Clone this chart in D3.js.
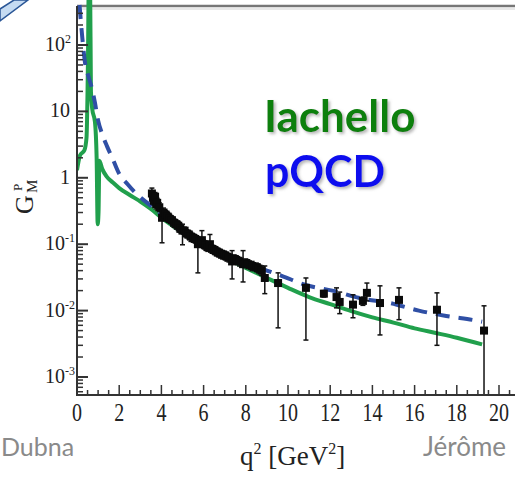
<!DOCTYPE html>
<html><head><meta charset="utf-8">
<script src="https://cdnjs.cloudflare.com/ajax/libs/d3/7.8.5/d3.min.js"></script>
<style>html,body{margin:0;padding:0;background:#fff;}svg{display:block;}</style>
</head><body>
<div id="chart"></div>
<script>
// ---- data ----
const xTickValues = [0, 2, 4, 6, 8, 10, 12, 14, 16, 18, 20];
const yTickLabels = [["10", "2"], ["10", ""], ["1", ""], ["10", "-1"], ["10", "-2"], ["10", "-3"]];
const yTickValues = [100, 10, 1, 0.1, 0.01, 0.001];

const pqcdX = [0.12, 0.25, 0.38, 0.55, 0.71, 0.85, 0.99, 1.2, 1.42, 1.71, 2.0, 2.4, 2.8, 3.2, 3.6, 4, 5, 6, 7, 8, 9, 9.7, 10.8, 12.1, 13.5, 14.8, 16.2, 17.5, 18.9, 19.2];
const pqcdY = [400, 130, 54, 33, 22, 13.5, 7.5, 4.5, 3.0, 1.87, 1.15, 0.8, 0.58, 0.45, 0.36, 0.28, 0.15, 0.098, 0.072, 0.053, 0.040, 0.0334, 0.0245, 0.020, 0.0152, 0.0131, 0.0100, 0.0083, 0.0071, 0.0068];

const iachX = [0.0, 0.15, 0.35, 0.45, 0.52, 0.56, 0.62, 0.66, 0.72, 0.85, 0.93, 0.98, 1.02, 1.06, 1.2, 1.4, 1.7, 2.0, 2.5, 3.0, 3.5, 4, 5, 6, 7, 8, 9, 10, 11, 12, 13, 14, 15, 16, 17, 18, 19.2];
const iachY = [1.3, 2.2, 2.6, 4, 60, 900, 900, 20, 11, 7, 2, 0.2, 0.3, 1.8, 1.35, 1.05, 0.85, 0.7, 0.55, 0.44, 0.34, 0.25, 0.15, 0.095, 0.063, 0.044, 0.031, 0.022, 0.016, 0.0125, 0.0098, 0.0079, 0.0066, 0.0054, 0.0046, 0.0039, 0.0031];

const dataX  = [3.55, 3.6, 3.65, 3.7, 3.75, 3.8, 3.9, 4.03, 4.1, 4.2, 4.3, 4.4, 4.5, 4.6, 4.7, 4.8, 4.9, 5.0, 5.1, 5.2, 5.3, 5.4, 5.5, 5.6, 5.73, 5.8, 5.92, 6.0, 6.1, 6.2, 6.3, 6.4, 6.5, 6.6, 6.7, 6.8, 6.9, 7.0, 7.1, 7.2, 7.35, 7.45, 7.55, 7.7, 7.87, 8.0, 8.1, 8.3, 8.5, 8.6, 8.75, 8.9, 9.53, 10.85, 11.7, 12.3, 12.45, 13.08, 13.55, 13.74, 14.36, 15.26, 17.06, 19.29];
const dataY  = [0.58, 0.50, 0.45, 0.52, 0.40, 0.42, 0.36, 0.25, 0.30, 0.28, 0.26, 0.24, 0.23, 0.21, 0.20, 0.19, 0.17, 0.16, 0.16, 0.145, 0.14, 0.13, 0.125, 0.12, 0.10, 0.11, 0.115, 0.10, 0.095, 0.09, 0.10, 0.085, 0.082, 0.078, 0.075, 0.072, 0.07, 0.068, 0.065, 0.063, 0.055, 0.06, 0.058, 0.055, 0.050, 0.052, 0.05, 0.047, 0.045, 0.043, 0.040, 0.031, 0.026, 0.022, 0.018, 0.016, 0.0135, 0.0123, 0.014, 0.0185, 0.013, 0.0145, 0.0103, 0.0050];
const dataLo = [0.50, 0.42, 0.39, 0.45, 0.34, 0.36, 0.31, 0.105, 0.26, 0.24, 0.22, 0.21, 0.20, 0.18, 0.17, 0.16, 0.15, 0.098, 0.14, 0.125, 0.12, 0.11, 0.108, 0.104, 0.037, 0.095, 0.10, 0.087, 0.082, 0.078, 0.086, 0.073, 0.071, 0.067, 0.065, 0.062, 0.06, 0.059, 0.056, 0.054, 0.030, 0.052, 0.05, 0.047, 0.027, 0.045, 0.043, 0.040, 0.039, 0.037, 0.034, 0.018, 0.0055, 0.0036, 0.016, 0.011, 0.009, 0.0078, 0.012, 0.014, 0.0043, 0.0073, 0.0030, 0.0001];
const dataHi = [0.70, 0.60, 0.52, 0.60, 0.47, 0.49, 0.42, 0.32, 0.35, 0.32, 0.30, 0.28, 0.26, 0.24, 0.23, 0.22, 0.20, 0.20, 0.18, 0.165, 0.16, 0.15, 0.143, 0.137, 0.13, 0.125, 0.16, 0.115, 0.108, 0.103, 0.14, 0.097, 0.094, 0.09, 0.086, 0.083, 0.08, 0.078, 0.075, 0.072, 0.080, 0.069, 0.067, 0.063, 0.080, 0.06, 0.058, 0.055, 0.052, 0.05, 0.047, 0.047, 0.037, 0.031, 0.020, 0.022, 0.019, 0.0173, 0.016, 0.026, 0.0236, 0.022, 0.0185, 0.0118];

// ---- drawing ----
const W = 515, H = 480;
const svg = d3.select("#chart").append("svg").attr("width", W).attr("height", H);
const defs = svg.append("defs");
const f = defs.append("filter").attr("id", "shadow").attr("x", "-10%").attr("y", "-10%").attr("width", "130%").attr("height", "140%");
f.append("feDropShadow").attr("dx", 2).attr("dy", 2).attr("stdDeviation", 1.5).attr("flood-color", "#888").attr("flood-opacity", 0.6);

const x = d3.scaleLinear().domain([0, 21]).range([77, 77 + 21.1 * 21]);
const y = d3.scaleLog().domain([Math.pow(10, -3.271), Math.pow(10, 2.572)]).range([395, 7]);

// top frame line
svg.append("line").attr("x1", 77).attr("x2", W).attr("y1", 6).attr("y2", 6)
  .attr("stroke", "#777").attr("stroke-width", 2.5);
svg.append("line").attr("x1", 77).attr("x2", W).attr("y1", 9).attr("y2", 9)
  .attr("stroke", "#e8e8e8").attr("stroke-width", 2);

// top-left arrow fragment
svg.append("polygon").attr("points", "0,21 28,0 14,0 0,9")
  .attr("fill", "#c5dbf2").attr("stroke", "#2b5797").attr("stroke-width", 1.5);

const plotClip = defs.append("clipPath").attr("id", "pc");
plotClip.append("rect").attr("x", 77).attr("y", -20).attr("width", W).attr("height", 415);

const g = svg.append("g").attr("clip-path", "url(#pc)");

// curves
const lineP = d3.line().x((d, i) => x(pqcdX[i])).y(d => y(d)).curve(d3.curveMonotoneX);
const lineI = d3.line().x((d, i) => x(iachX[i])).y(d => y(d)).curve(d3.curveMonotoneX);

g.append("path").attr("d", lineI(iachY)).attr("fill", "none")
  .attr("stroke", "#21a04c").attr("stroke-width", 4);
g.append("path").attr("d", lineP(pqcdY)).attr("fill", "none")
  .attr("stroke", "#2f4fa5").attr("stroke-width", 4).attr("stroke-dasharray", "14 9");

// data
const pts = dataX.map((v, i) => ({ x: v, y: dataY[i], lo: dataLo[i], hi: dataHi[i] }));
const eb = g.append("g").attr("stroke", "#111").attr("stroke-width", 1.5);
pts.forEach(p => {
  const yl = Math.min(y(p.lo), 395);
  eb.append("line").attr("x1", x(p.x)).attr("x2", x(p.x)).attr("y1", y(p.hi)).attr("y2", yl);
  eb.append("line").attr("x1", x(p.x) - 2.5).attr("x2", x(p.x) + 2.5).attr("y1", y(p.hi)).attr("y2", y(p.hi));
  if (y(p.lo) < 395) eb.append("line").attr("x1", x(p.x) - 2.5).attr("x2", x(p.x) + 2.5).attr("y1", yl).attr("y2", yl);
});
g.selectAll("rect.pt").data(pts).enter().append("rect").attr("class", "pt")
  .attr("x", d => x(d.x) - 4).attr("y", d => y(d.y) - 4)
  .attr("width", 8).attr("height", 8).attr("fill", "#0a0a0a");

// axes
const axisColor = "#333";
svg.append("line").attr("x1", 77).attr("x2", 77).attr("y1", 6).attr("y2", 396)
  .attr("stroke", axisColor).attr("stroke-width", 2);
svg.append("line").attr("x1", 76).attr("x2", W).attr("y1", 395).attr("y2", 395)
  .attr("stroke", axisColor).attr("stroke-width", 2);

// x ticks (inward)
const xMinor = d3.range(0, 21.01, 0.5);
svg.append("g").selectAll("line").data(xMinor).enter().append("line")
  .attr("x1", d => x(d)).attr("x2", d => x(d))
  .attr("y1", 395).attr("y2", d => (d % 2 === 0) ? 385 : 390)
  .attr("stroke", axisColor).attr("stroke-width", 1.5);

// y ticks (inward)
const yMinor = [];
for (let e = -4; e <= 2; e++) for (let m = 1; m <= 9; m++) {
  const v = m * Math.pow(10, e);
  if (v >= y.domain()[0] && v <= y.domain()[1]) yMinor.push({ v, major: m === 1 });
}
svg.append("g").selectAll("line").data(yMinor).enter().append("line")
  .attr("x1", 77).attr("x2", d => d.major ? 88 : 83)
  .attr("y1", d => y(d.v)).attr("y2", d => y(d.v))
  .attr("stroke", axisColor).attr("stroke-width", d => d.major ? 2 : 1.5);

// x tick labels
svg.append("g").selectAll("text").data(xTickValues).enter().append("text")
  .attr("transform", d => `translate(${x(d)},421) scale(1,1.3)`)
  .attr("text-anchor", "middle").attr("font-family", "Liberation Serif, serif")
  .attr("font-size", 20).attr("fill", "#222").text(d => d);

// y tick labels
yTickValues.forEach((v, i) => {
  const [base, sup] = yTickLabels[i];
  svg.append("text").attr("x", sup ? 65 : 70).attr("y", y(v) + 6)
    .attr("text-anchor", "end").attr("font-family", "Liberation Serif, serif")
    .attr("font-size", 20).attr("fill", "#222").text(base);
  if (sup) {
    svg.append("text").attr("x", 65).attr("y", y(v) - 2)
      .attr("font-family", "Liberation Serif, serif").attr("font-size", 12).attr("fill", "#222").text(sup);
  }
});

// y axis label G_M^P
const yl = svg.append("g").attr("transform", "translate(33,214) rotate(-90)")
  .attr("font-family", "Liberation Serif, serif").attr("fill", "#222");
yl.append("text").attr("x", 0).attr("y", 0).attr("font-size", 26).text("G");
yl.append("text").attr("x", 21).attr("y", 4).attr("font-size", 15).text("M");
yl.append("text").attr("x", 23).attr("y", -11).attr("font-size", 13).text("P");

// x axis label
const xl = svg.append("text").attr("x", 240).attr("y", 465)
  .attr("font-family", "Liberation Serif, serif").attr("font-size", 27).attr("fill", "#222");
xl.append("tspan").text("q");
xl.append("tspan").attr("font-size", 16).attr("dy", -11).text("2");
xl.append("tspan").attr("dy", 11).text(" [GeV");
xl.append("tspan").attr("font-size", 16).attr("dy", -11).text("2");
xl.append("tspan").attr("dy", 11).text("]");

// legend-like labels
svg.append("text").attr("x", 264).attr("y", 132).attr("font-family", "Lato, sans-serif")
  .attr("font-weight", "bold").attr("font-size", 44).attr("fill", "#108010")
  .attr("filter", "url(#shadow)").text("Iachello");
svg.append("text").attr("x", 265).attr("y", 187).attr("font-family", "Lato, sans-serif")
  .attr("font-weight", "bold").attr("font-size", 43).attr("fill", "#0a10ee")
  .attr("filter", "url(#shadow)").text("pQCD");

// slide footer texts
svg.append("text").attr("x", 1).attr("y", 456).attr("font-family", "Lato, sans-serif")
  .attr("font-size", 25).attr("fill", "#8a8a8a").text("Dubna");
svg.append("text").attr("x", 423).attr("y", 456).attr("font-family", "Lato, sans-serif")
  .attr("font-size", 26).attr("fill", "#8a8a8a").text("Jérôme");
</script>
</body></html>
